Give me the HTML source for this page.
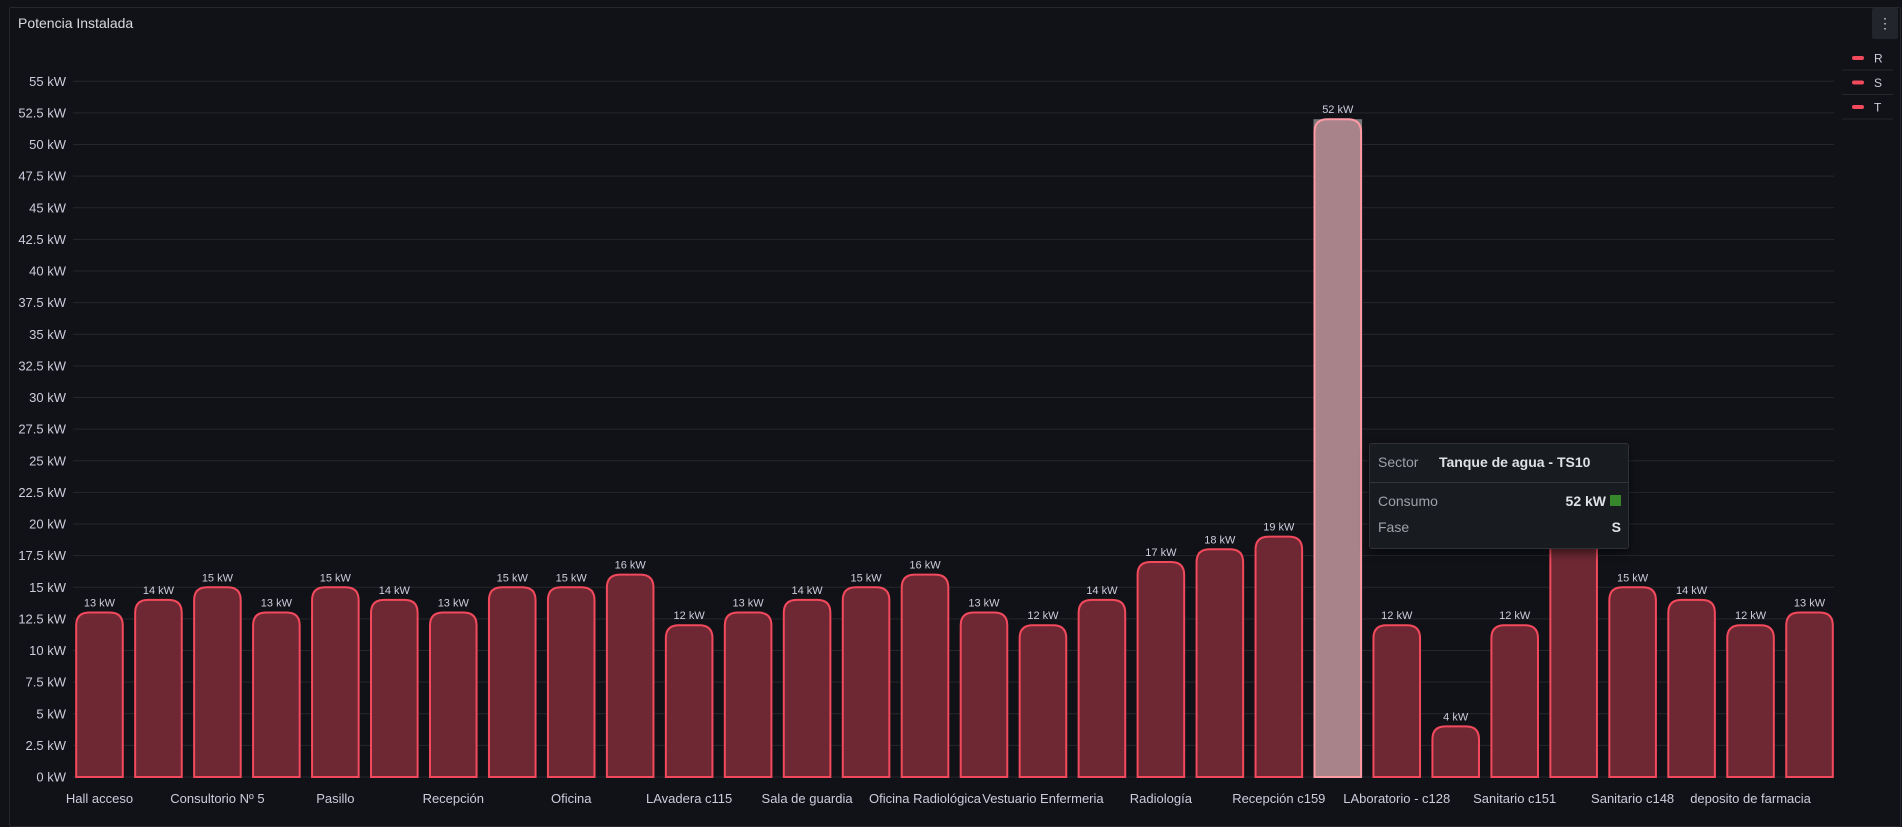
<!DOCTYPE html>
<html><head><meta charset="utf-8"><style>
html,body{margin:0;padding:0;background:#111217;width:1902px;height:815px;overflow:hidden;font-family:"Liberation Sans",sans-serif;}
#panel{position:absolute;left:9px;top:7px;width:1892px;height:820px;border:1px solid #25272d;border-radius:2px;box-sizing:border-box;}
#title{position:absolute;left:18px;top:15px;color:#d8d9de;font-size:14px;}
#menu{position:absolute;left:1872px;top:8px;width:26px;height:31px;background:#22252b;border-radius:2px;color:#ccc;font-size:14px;text-align:center;line-height:31px;}
.tt{position:absolute;left:1369px;top:443px;width:258px;height:104px;background:#181b1f;border:1px solid #2f3137;border-radius:3px;box-shadow:0 4px 10px rgba(0,0,0,.5);font-size:14px;}
</style></head><body>
<div id="panel"></div>
<div id="title">Potencia Instalada</div>
<div id="menu">⋮</div>
<svg id="chart" width="1902" height="815" style="position:absolute;left:0;top:0"></svg>
<div class="tt">
  <div style="position:absolute;left:8px;top:10px;color:#9fa1a8">Sector</div>
  <div style="position:absolute;left:69px;top:10px;color:#e0e1e6;font-weight:bold">Tanque de agua - TS10</div>
  <div style="position:absolute;left:0;top:38px;width:100%;border-top:1px solid #33353b"></div>
  <div style="position:absolute;left:8px;top:49px;color:#9fa1a8">Consumo</div>
  <div style="position:absolute;right:22px;top:49px;color:#e0e1e6;font-weight:bold">52 kW</div>
  <div style="position:absolute;right:7px;top:51px;width:11px;height:11px;background:#37872d"></div>
  <div style="position:absolute;left:8px;top:75px;color:#9fa1a8">Fase</div>
  <div style="position:absolute;right:7px;top:75px;color:#e0e1e6;font-weight:bold">S</div>
</div>
<script>
const categories=["Hall acceso","Consultorio 4","Consultorio Nº 5","Consultorio 6","Pasillo","Enfermería","Recepción","Guardia","Oficina","Cocina","LAvadera c115","Depósito","Sala de guardia","Office","Oficina Radiológica","Vestuario","Vestuario Enfermeria","Laboratorio","Radiología","Ecografía","Recepción c159","Tanque de agua - TS10","LAboratorio - c128","Sanitario c150","Sanitario c151","Bombas","Sanitario c148","Archivo","deposito de farmacia","Farmacia"];
const values=[13,14,15,13,15,14,13,15,15,16,12,13,14,15,16,13,12,14,17,18,19,52,12,4,12,25,15,14,12,13];
const yTicks=[0,2.5,5,7.5,10,12.5,15,17.5,20,22.5,25,27.5,30,32.5,35,37.5,40,42.5,45,47.5,50,52.5,55];
const legendItems=["R","S","T"];
const highlighted=21;
const NS="http://www.w3.org/2000/svg";
const svg=document.getElementById('chart');
const GX0=73,GX1=1834,X0=70,X1=1839,Y0=777,PXK=12.65;
const band=(X1-X0)/categories.length, bw=band*0.79;
const y=v=>Y0-v*PXK;
const xc=i=>X0+band*(i+0.5);
function mk(t,a){const e=document.createElementNS(NS,t);for(const k in a)e.setAttribute(k,a[k]);svg.appendChild(e);return e;}
yTicks.forEach(t=>{
  const l=mk('line',{x1:GX0,x2:GX1,y1:y(t),y2:y(t),stroke:'#25272c','stroke-width':1});
  
  
  const tx=mk('text',{x:66,y:y(t)+4.5,'text-anchor':'end',fill:'#ccccdc','font-size':13,'font-family':'Liberation Sans, sans-serif'});
  tx.textContent=t+' kW';
  
  
});
values.forEach((v,i)=>{
  const x=xc(i)-bw/2,top=y(v),h=Y0-top,r=Math.min(13,h/2);
  const hl=i===highlighted;
  if(hl){const bg=mk('rect',{x:x-1,y:top,width:bw+2,height:h,fill:'#777'});}
  const d=`M${x},${Y0} L${x},${top+r} Q${x},${top} ${x+r},${top} L${x+bw-r},${top} Q${x+bw},${top} ${x+bw},${top+r} L${x+bw},${Y0} Z`;
  const p=mk('path',{d:d,fill:hl?'#a8838a':'#6e2833',stroke:hl?'#ff9aa5':'#f2495c','stroke-width':2});
  
  
  if(i!==25){
    const t=mk('text',{x:xc(i),y:top-6,'text-anchor':'middle',fill:'#ccccdc','font-size':11,'font-family':'Liberation Sans, sans-serif'});
    t.textContent=v+' kW';
    
    
  }
  if(i%2===0){
    const t=mk('text',{x:xc(i),y:803,'text-anchor':'middle',fill:'#ccccdc','font-size':13,'font-family':'Liberation Sans, sans-serif'});
    t.textContent=categories[i];
    
    
  }
});
legendItems.forEach((s,i)=>{
  const yy=58+i*24.5;
  const ln=mk('line',{x1:1842,x2:1893,y1:yy+12,y2:yy+12,stroke:'#25272c'});
  
  
  const r=mk('rect',{x:1852,y:yy-2,width:12,height:4,rx:2,fill:'#f2495c'});
  
  
  const t=mk('text',{x:1874,y:yy+4.5,fill:'#ccccdc','font-size':12,'font-family':'Liberation Sans, sans-serif'});
  t.textContent=s;
  
  
});
</script>
</body></html>
